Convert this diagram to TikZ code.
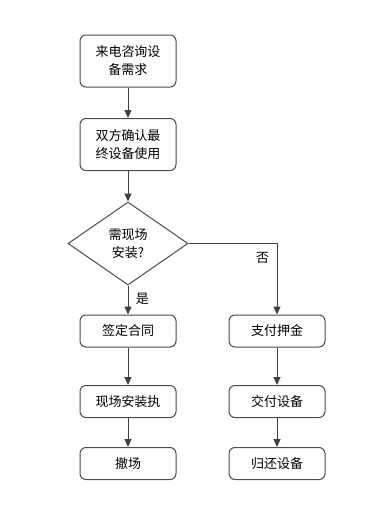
\documentclass[tikz,border=0pt]{standalone}
\usepackage{fontspec}
\newfontfamily\cjk{Noto Sans CJK SC}
\usetikzlibrary{arrows.meta,shapes.geometric}
\tikzset{
  box/.style={draw=black!70, line width=1pt, rounded corners=6pt, fill=white,
    minimum width=96pt, align=center, inner sep=2pt,
    font=\cjk\fontsize{13}{18}\selectfont},
  decision/.style={draw=black!70, line width=1pt, diamond, aspect=1.45,
    minimum width=120pt, minimum height=83pt, inner sep=0pt, align=center,
    font=\cjk\fontsize{13}{18}\selectfont},
  flow/.style={draw=black!75, line width=1pt, -{Triangle[length=8pt,width=7pt]}},
  lbl/.style={font=\cjk\fontsize{13}{18}\selectfont}
}
\begin{document}
\begin{tikzpicture}[x=1pt,y=-1pt]
        \useasboundingbox[fill=white] (0,0) rectangle (388,520);
        % left column
        \node[box, minimum height=52pt] (call) at (128,61) {来电咨询设\\备需求};
        \node[box, minimum height=52pt] (confirm) at (128,144.5) {双方确认最\\终设备使用};
        \node[decision] (onsite) at (128,243.5) {需现场\\安装?};
        \node[box, minimum height=32pt] (contract) at (128,331) {签定合同};
        \node[box, minimum height=32pt] (install) at (128,401.5) {现场安装执};
        \node[box, minimum height=32pt] (remove) at (128,463.5) {撤场};
        % right column
        \node[box, minimum height=32pt] (deposit) at (277,331) {支付押金};
        \node[box, minimum height=32pt] (deliver) at (277,401.5) {交付设备};
        \node[box, minimum height=32pt] (return) at (277,463.5) {归还设备};
        % connectors
        \draw[flow] (call) -- (confirm);
        \draw[flow] (confirm) -- (onsite);
        \draw[flow] (onsite) -- (contract) node[lbl, pos=0.45, right=4pt] {是};
        \draw[flow] (contract) -- (install);
        \draw[flow] (install) -- (remove);
        \draw[flow] (onsite.east) -| (deposit.north) node[lbl, pos=0.6, left=4pt] {否};
        \draw[flow] (deposit) -- (deliver);
        \draw[flow] (deliver) -- (return);
    \end{tikzpicture}
\end{document}
